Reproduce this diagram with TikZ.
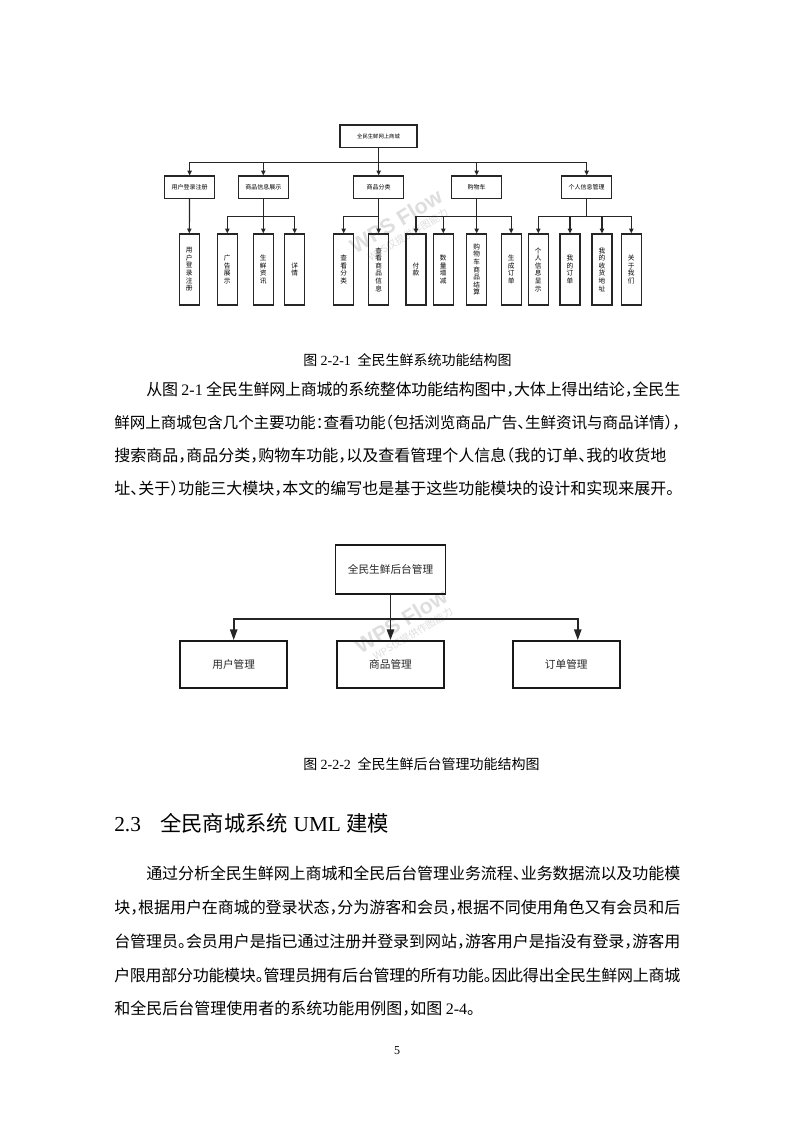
\documentclass[tikz,border=0pt]{standalone}
\usepackage{fontspec}
\setmainfont{Liberation Serif}
\newfontfamily\cjk[RawFeature=+halt]{Noto Sans CJK SC}
\newfontfamily\cjkd{Noto Sans CJK SC}
\newfontfamily\lat{Liberation Serif}
\newfontfamily\wmfont{Liberation Sans}
\usetikzlibrary{arrows.meta}
\XeTeXlinebreaklocale "zh"
\XeTeXlinebreakskip=0pt plus 2pt minus 1pt
\newcommand{\fillline}{\parfillskip=0pt\relax}

\begin{document}
\begin{tikzpicture}[x=0.75pt, y=-0.75pt,
  rootbox/.style={draw=black!85, line width=0.9pt, minimum width=57.75pt,
                  minimum height=16.7pt, inner sep=0pt, text=black,
                  font=\cjkd\fontsize{4}{5}\selectfont},
  modbox/.style={draw=black!85, line width=0.9pt, minimum width=37.5pt,
                 minimum height=16.7pt, inner sep=0pt, text=black,
                 font=\cjkd\fontsize{4.5}{5}\selectfont},
  leafbox/.style={draw=black!85, line width=0.9pt, minimum width=15pt,
                  minimum height=53.25pt, inner sep=0pt, align=center, text=black,
                  font=\cjkd\fontsize{5}{5.7}\selectfont},
  link/.style={draw=black!85, line width=0.9pt, -{Triangle[length=3.6pt,width=3.2pt]}},
  bigbox/.style={draw=black!90, line width=1.4pt, minimum width=80.25pt,
                 minimum height=35.25pt, inner sep=0pt, text=black!85,
                 font=\cjkd\fontsize{8}{10}\selectfont},
  biglink/.style={draw=black!85, line width=1.2pt, -{Triangle[length=8pt,width=5.5pt]}},
  bodyline/.style={anchor=base west, inner sep=0pt, text width=424.5pt, align=justify,
                   font=\cjk\fontsize{12}{25}\selectfont},
  capline/.style={anchor=base west, inner sep=0pt, font=\cjk\fontsize{10.5}{12}\selectfont},
  wmbig/.style={text=black!13, rotate=31, inner sep=0pt, font=\wmfont\bfseries\fontsize{16}{18}\selectfont},
  wmsmall/.style={text=black!13, rotate=31, inner sep=0pt, font=\cjkd\fontsize{7.5}{9}\selectfont}
]
\useasboundingbox (0,0) rectangle (793,1122);
\fill[white] (0,0) rectangle (793,1122);

% watermarks
\node[wmbig] (wm1) at (396,221) {WPS Flow};
\node[wmsmall] (wm1s) at (408,235) {WPS仅提供作图能力};
\node[wmbig] (wm2) at (401,621) {WPS Flow};
\node[wmsmall] (wm2s) at (413,634) {WPS仅提供作图能力};

% shop function structure
\node[rootbox] (shop) at (378.5,136.2) {全民生鲜网上商城};
\node[modbox] (login) at (189.6,187.2) {用户登录注册};
\node[modbox] (goods) at (263.3,187.2) {商品信息展示};
\node[modbox] (sort)  at (378.7,187.2) {商品分类};
\node[modbox] (cart)  at (476.7,187.2) {购物车};
\node[modbox] (mine)  at (586.7,187.2) {个人信息管理};

\node[leafbox] (login1) at (189.3,269.5) {用\\户\\登\\录\\注\\册};
\node[leafbox] (goods1) at (227.3,269.5) {广\\告\\展\\示};
\node[leafbox] (goods2) at (263.3,269.5) {生\\鲜\\资\\讯};
\node[leafbox] (goods3) at (294.7,269.5) {详\\情};
\node[leafbox] (sort1)  at (343.7,269.5) {查\\看\\分\\类};
\node[leafbox] (sort2)  at (378.7,269.5) {查\\看\\商\\品\\信\\息};
\node[leafbox] (cart1)  at (416,269.5)   {付\\款};
\node[leafbox] (cart2)  at (443.3,269.5) {数\\量\\增\\减};
\node[leafbox] (cart3)  at (476.7,269.5) {购\\物\\车\\商\\品\\结\\算};
\node[leafbox] (cart4)  at (511.2,269.5) {生\\成\\订\\单};
\node[leafbox] (mine1)  at (538.3,269.5) {个\\人\\信\\息\\显\\示};
\node[leafbox] (mine2)  at (570,269.5)   {我\\的\\订\\单};
\node[leafbox] (mine3)  at (602,269.5)   {我\\的\\收\\货\\地\\址};
\node[leafbox] (mine4)  at (631.3,269.5) {关\\于\\我\\们};

\foreach \m in {login,goods,sort,cart,mine}
  \draw[link] (shop.south) -- ++(0,14.4) -| (\m.north);
\draw[link] (login.south) -- (login1.north);
\foreach \c in {goods1,goods2,goods3}
  \draw[link] (goods.south) -- ++(0,17.7) -| (\c.north);
\foreach \c in {sort1,sort2}
  \draw[link] (sort.south) -- ++(0,17.7) -| (\c.north);
\foreach \c in {cart1,cart2,cart3,cart4}
  \draw[link] (cart.south) -- ++(0,17.7) -| (\c.north);
\foreach \c in {mine1,mine2,mine3,mine4}
  \draw[link] (mine.south) -- ++(0,17.7) -| (\c.north);

\node[capline] (cap1) at (303,365.5) {图\hspace{2.5pt}{\lat 2-2-1}\hspace{5pt}全民生鲜系统功能结构图};

% paragraph 1
\node[bodyline] (p1a) at (114,395) {\fillline\hspace*{2em}从图 {\lat 2-1} 全民生鲜网上商城的系统整体功能结构图中，大体上得出结论，全民生};
\node[bodyline, font=\cjk\fontsize{11.7}{25}\selectfont] (p1b) at (114,428)
  {\XeTeXlinebreakskip=0pt plus 1pt minus 2pt\fillline 鲜网上商城包含几个主要功能：查看功能（包括浏览商品广告、生鲜资讯与商品详情），};
\node[bodyline] (p1c) at (114,461) {\fillline 搜索商品，商品分类，购物车功能，以及查看管理个人信息（我的订单、我的收货地};
\node[bodyline] (p1d) at (114,494) {\fillline 址、关于）功能三大模块，本文的编写也是基于这些功能模块的设计和实现来展开。};

% back-office function structure
\node[bigbox, minimum width=82.5pt, minimum height=36.75pt] (admin) at (390.5,569.5) {全民生鲜后台管理};
\node[bigbox] (usermgr)  at (233.7,664.5) {用户管理};
\node[bigbox] (goodsmgr) at (390.5,664.5) {商品管理};
\node[bigbox] (ordermgr) at (566.3,664.5) {订单管理};
\coordinate (orderin) at ([xshift=8.6pt]ordermgr.north);
\draw[biglink] (admin.south) -- ++(0,24) -| (usermgr.north);
\draw[biglink] (admin.south) -- (goodsmgr.north);
\draw[biglink] (admin.south) -- ++(0,24) -| (orderin);

\node[capline] (cap2) at (303,769) {图\hspace{2.5pt}{\lat 2-2-2}\hspace{5pt}全民生鲜后台管理功能结构图};

% section heading
\node[anchor=base west, inner sep=0pt, font=\fontsize{16}{19}\selectfont] (sec) at (114,831)
  {{\lat 2.3}\hspace{14.5pt}{\cjk 全民商城系统} {\lat UML} {\cjk 建模}};

% paragraph 2
\node[bodyline] (p2a) at (114,879) {\fillline\hspace*{2em}通过分析全民生鲜网上商城和全民后台管理业务流程、业务数据流以及功能模};
\node[bodyline] (p2b) at (114,913) {\fillline 块，根据用户在商城的登录状态，分为游客和会员，根据不同使用角色又有会员和后};
\node[bodyline] (p2c) at (114,947) {\fillline 台管理员。会员用户是指已通过注册并登录到网站，游客用户是指没有登录，游客用};
\node[bodyline] (p2d) at (114,981) {\fillline 户限用部分功能模块。管理员拥有后台管理的所有功能。因此得出全民生鲜网上商城};
\node[bodyline] (p2e) at (114,1014) {和全民后台管理使用者的系统功能用例图，如图 {\lat 2-4}。};

\node[anchor=base, inner sep=0pt, font=\lat\fontsize{9}{10}\selectfont] (pnum) at (397,1054) {5};
\end{tikzpicture}
\end{document}
